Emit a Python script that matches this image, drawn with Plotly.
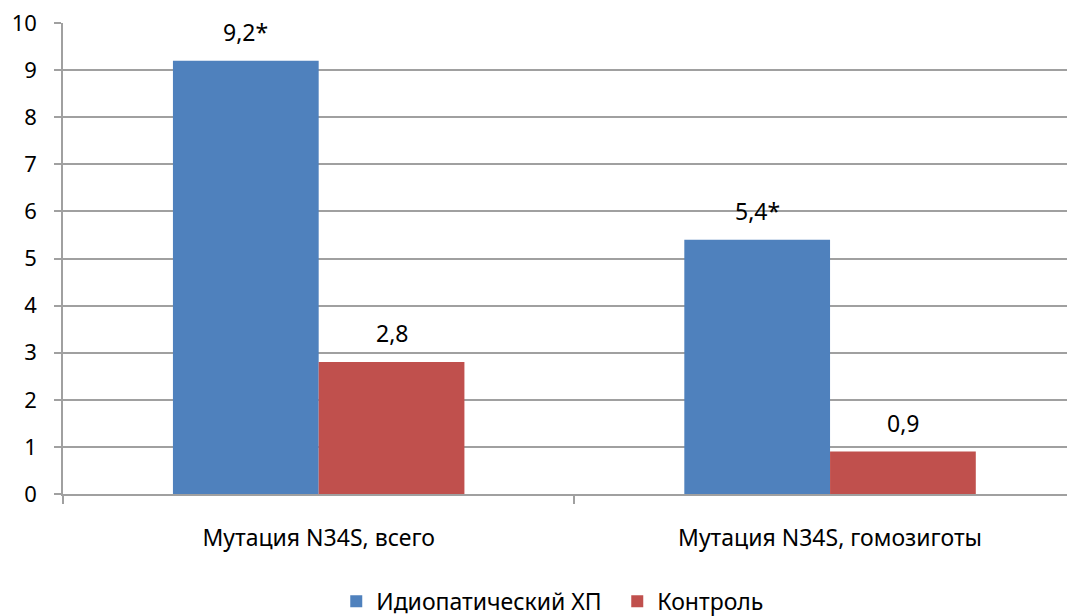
import plotly.graph_objects as go

categories = ["Мутация N34S, всего", "Мутация N34S, гомозиготы"]
series_names = ["Идиопатический ХП", "Контроль"]
idio_values = [9.2, 5.4]
control_values = [2.8, 0.9]
idio_labels = ["9,2*", "5,4*"]
control_labels = ["2,8", "0,9"]
y_ticks = [0, 1, 2, 3, 4, 5, 6, 7, 8, 9, 10]

FONT = "Noto Sans"
FS = 22
FS_BIG = 23
# the page body has an 8px margin, so the figure is sized to end at the window edge
W, H = 1067, 608
ML, MR, MT, MB = 54.5, 0, 14.5, 122
GRID = "#a0a0a0"
BARGAP = 0.43
XMAX = 1.479

fig = go.Figure()
fig.add_trace(go.Bar(name=series_names[0], x=categories, y=idio_values,
                     marker=dict(color="#4f81bd", line=dict(width=0))))
fig.add_trace(go.Bar(name=series_names[1], x=categories, y=control_values,
                     marker=dict(color="#c0504d", line=dict(width=0))))

# data labels via annotations
plot_w = W - ML - MR
cat_px = plot_w / (XMAX + 0.5)
bar_px = cat_px * (1 - BARGAP) / 2
for cat, v, t in zip(categories, idio_values, idio_labels):
    fig.add_annotation(x=cat, y=v, text=t, showarrow=False, xshift=-bar_px / 2,
                       yanchor="bottom", yshift=11, font=dict(family=FONT, size=FS_BIG, color="#000"))
for cat, v, t in zip(categories, control_values, control_labels):
    fig.add_annotation(x=cat, y=v, text=t, showarrow=False, xshift=bar_px / 2,
                       yanchor="bottom", yshift=11, font=dict(family=FONT, size=FS_BIG, color="#000"))

fig.update_layout(
    width=W, height=H,
    margin=dict(l=ML, r=MR, t=MT, b=MB, pad=0),
    paper_bgcolor="white", plot_bgcolor="white",
    barmode="group", bargap=BARGAP, bargroupgap=0,
    font=dict(family=FONT, size=FS, color="#000"),
    showlegend=True,
    legend=dict(orientation="h", xref="container", yref="container",
                x=0.571, xanchor="center", y=0.024, yanchor="middle",
                font=dict(family=FONT, size=FS_BIG, color="#000"),
                entrywidth=236, entrywidthmode="pixels",
                itemsizing="constant", traceorder="normal"),
)
fig.update_xaxes(
    type="category", range=[-0.5, XMAX],
    showline=True, linecolor=GRID, linewidth=1.5,
    ticks="outside", tickson="boundaries", ticklen=8, tickcolor=GRID, tickwidth=1.5,
    ticklabelstandoff=23, showgrid=False,
    tickfont=dict(family=FONT, size=FS_BIG, color="#000"),
)
fig.update_yaxes(
    range=[0, 10], tickvals=y_ticks, ticktext=[str(v) for v in y_ticks],
    showline=True, linecolor=GRID, linewidth=1.5,
    ticks="outside", ticklen=7, tickcolor=GRID, tickwidth=1.5,
    showgrid=True, gridcolor=GRID, gridwidth=1.5,
    zeroline=False, ticklabelstandoff=13, ticklabeloverflow="allow",
    tickfont=dict(family=FONT, size=FS, color="#000"),
)

fig.write_html("out.html")
